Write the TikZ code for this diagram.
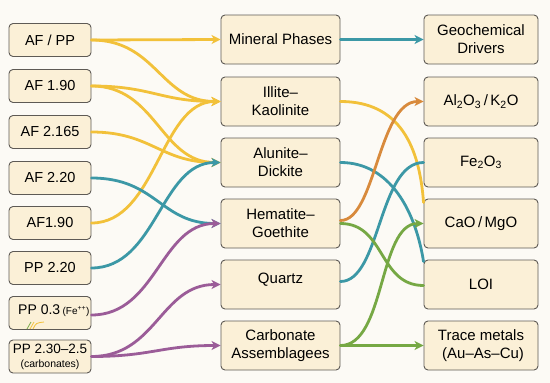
\documentclass[tikz,border=0pt]{standalone}
\usepackage{fontspec}
\setmainfont{Liberation Sans}
\usetikzlibrary{arrows.meta}
\definecolor{bgc}{HTML}{FCFAF5}
\definecolor{boxfill}{HTML}{FBF0D7}
\definecolor{boxline}{HTML}{5E5A55}
\definecolor{cyel}{HTML}{F2C13A}
\definecolor{cteal}{HTML}{3C98A6}
\definecolor{cpurp}{HTML}{9B5C98}
\definecolor{corng}{HTML}{D88A3C}
\definecolor{cgrn}{HTML}{76A844}
\tikzset{
  boxbase/.style={draw=boxline, line width=0.9pt, fill=boxfill, rounded corners=4pt, align=center, inner sep=1pt},
  lbox/.style={boxbase, minimum width=82pt, minimum height=33pt, font=\fontsize{14.5}{16}\selectfont},
  mbox/.style={boxbase, minimum width=119pt, minimum height=49pt, font=\fontsize{15}{18}\selectfont},
  rbox/.style={boxbase, minimum width=114pt, minimum height=49pt, font=\fontsize{15}{18}\selectfont},
  conn/.style={line width=2.8pt, line cap=round},
  arr/.style={-{Stealth[length=9pt,width=9pt,inset=2.5pt]}},
  yl/.style={conn, draw=cyel},
  tl/.style={conn, draw=cteal},
  pu/.style={conn, draw=cpurp},
  og/.style={conn, draw=corng},
  gr/.style={conn, draw=cgrn},
}
\begin{document}
\begin{tikzpicture}[x=1pt, y=-1pt]
\fill[bgc] (0,0) rectangle (550,383);
\useasboundingbox (0,0) rectangle (550,383);
% left column
\node[lbox] (l1) at (50,40) {AF / PP};
\node[lbox] (l2) at (50,86) {AF 1.90};
\node[lbox] (l3) at (50,132) {AF 2.165};
\node[lbox] (l4) at (50,178) {AF 2.20};
\node[lbox] (l5) at (50,223) {AF1.90};
\node[lbox] (l6) at (50,268) {PP 2.20};
\node[lbox] (l7) at (50,313) {};
\node[font=\fontsize{14}{15}\selectfont, inner sep=0pt, anchor=base west] (l7t) at (18,314) {PP 0.3\,{\fontsize{10}{11}\selectfont(Fe\textsuperscript{++})}};
\node[lbox] (l8) at (50,356.5) {\fontsize{13.5}{15}\selectfont PP 2.30–2.5\\[-2pt]{\fontsize{10.5}{12}\selectfont(carbonates)}};
% doodle
\draw[cgrn, line width=0.8pt] (27,329) -- (31,322);
\draw[cyel, line width=0.8pt] (30,329) -- (34,322);
\draw[cyel, line width=0.8pt] (33,329) .. controls (36,323) .. (44,322);
% middle column
\node[mbox] (m1) at (280.5,39.5) {Mineral Phases};
\node[mbox] (m2) at (280.5,101.5) {Illite–\\Kaolinite};
\node[mbox] (m3) at (280.5,162.5) {Alunite–\\Dickite};
\node[mbox] (m4) at (280.5,223.5) {Hematite–\\Goethite};
\node[mbox, text height=10pt, text depth=13pt] (m5) at (280.5,284.5) {Quartz};
\node[mbox] (m6) at (280.5,345.5) {Carbonate\\Assemblagees};
% right column
\node[rbox] (r1) at (481,39.5) {Geochemical\\Drivers};
\node[rbox] (r2) at (481,101.5) {Al\textsubscript{2}O\textsubscript{3}\,/\,K\textsubscript{2}O};
\node[rbox] (r3) at (481,162.5) {Fe\textsubscript{2}O\textsubscript{3}};
\node[rbox] (r4) at (481,223.5) {CaO\,/\,MgO};
\node[rbox] (r5) at (481,284.5) {LOI};
\node[rbox] (r6) at (481,345.5) {Trace metals\\\ (Au–As–Cu)};
% left -> middle
\draw[yl, arr] (l1.east) -- (m1.west);
\draw[yl, arr] (l1.east) .. controls +(65,0) and +(-60,0) .. (m2.west);
\draw[yl, arr] (l2.east) .. controls +(60,0) and +(-60,0) .. (m2.west);
\draw[yl, arr] (l2.east) .. controls +(65,0) and +(-60,0) .. (m3.west);
\draw[yl, arr] (l3.east) .. controls +(60,0) and +(-60,0) .. (m3.west);
\draw[yl, arr] (l5.east) .. controls +(65,0) and +(-60,0) .. (m2.west);
\draw[tl, arr] (l4.east) .. controls +(65,0) and +(-60,0) .. (m4.west);
\draw[tl, arr] (l6.east) .. controls +(65,0) and +(-60,0) .. (m3.west);
\draw[pu, arr] ([yshift=-2pt]l7.east) .. controls +(65,0) and +(-60,0) .. (m4.west);
\draw[pu, arr] (l8.east) .. controls +(65,0) and +(-60,0) .. (m5.west);
\draw[pu, arr] (l8.east) .. controls +(60,0) and +(-60,0) .. (m6.west);
% middle -> right
\draw[tl, arr] (m1.east) -- (r1.west);
\draw[yl] (m2.east) .. controls +(60,0) and +(-4,-55) .. ([yshift=-4pt]r4.north west);
\draw[tl] (m3.east) .. controls +(50,0) and +(-8,-50) .. ([yshift=-2pt]r5.north west);
\draw[og, arr] ([yshift=3pt]m4.east) .. controls +(35,0) and +(-45,0) .. (r2.west);
\draw[tl] ([yshift=3pt]m5.east) .. controls +(40,0) and +(-45,0) .. (r3.west);
\draw[gr] (m4.east) .. controls +(45,0) and +(-45,0) .. ([yshift=-1pt]r5.west);
\draw[gr, arr] (m6.east) .. controls +(45,0) and +(-45,0) .. (r4.west);
\draw[gr, arr] (m6.east) -- (r6.west);
\end{tikzpicture}
\end{document}
